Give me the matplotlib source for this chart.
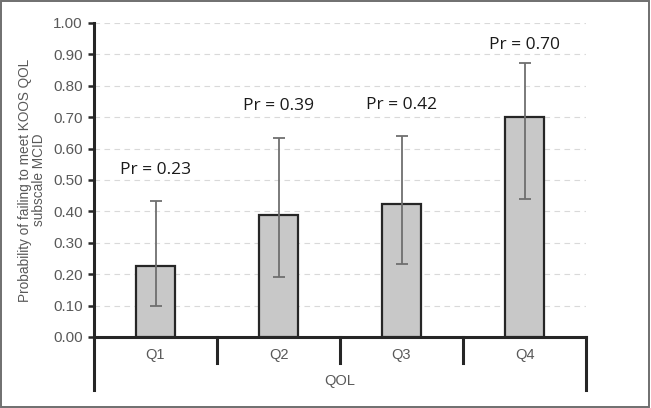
import matplotlib
matplotlib.use("Agg")
from matplotlib import pyplot as plt
from matplotlib.patches import Rectangle

categories = ['Q1', 'Q2', 'Q3', 'Q4']
group_label = 'QOL'
probs = [0.226, 0.39, 0.423, 0.70]
ci_low = [0.10, 0.19, 0.232, 0.44]
ci_high = [0.433, 0.635, 0.64, 0.872]
pr_labels = ['Pr = 0.23', 'Pr = 0.39', 'Pr = 0.42', 'Pr = 0.70']

gray_txt = '#595959'

fig = plt.figure(figsize=(6.51, 4.08), dpi=100)
ax = fig.add_axes([94 / 651, 1 - 337 / 408, (586 - 94) / 651, (337 - 23) / 408])

x = range(len(categories))
err = [[p - lo for p, lo in zip(probs, ci_low)], [hi - p for p, hi in zip(probs, ci_high)]]
ax.bar(x, probs, width=0.31, color='#c8c8c8', edgecolor='#262626', linewidth=1.6, zorder=3)
ax.errorbar(x, probs, yerr=err, fmt='none', ecolor='#6f6f6f', elinewidth=1.3,
            capsize=4.5, capthick=1.3, zorder=4)

for i, (hi, lab) in enumerate(zip(ci_high, pr_labels)):
    ax.text(i, min(hi + 0.1, 0.93), lab, ha='center', va='center',
            fontsize=12.5, family='Open Sans', color='#1a1a1a')

ax.set_xlim(-0.5, len(categories) - 0.5)
ax.set_ylim(0, 1.0)
ax.set_yticks([i / 10 for i in range(11)])
ax.set_yticklabels([f'{i / 10:.2f}' for i in range(11)])
ax.yaxis.grid(True, linestyle=(0, (5, 4)), color='#d9d9d9', linewidth=0.8, zorder=0)
ax.tick_params(axis='y', colors='#262626', labelcolor=gray_txt, labelsize=11,
               length=4, width=1.8, direction='out', pad=4)
for t in ax.get_yticklabels():
    t.set_family('Liberation Sans')

ax.set_xticks([])
for s in ['top', 'right']:
    ax.spines[s].set_visible(False)
ax.spines['left'].set_visible(False)
ax.spines['bottom'].set_linewidth(2.2)
ax.spines['bottom'].set_color('#262626')

trans = ax.get_xaxis_transform()
# left axis line continuing below into the category block
ax.plot([-0.5, -0.5], [1.0, -53 / 314], color='#262626', lw=2.2, transform=trans, clip_on=False)
ax.plot([len(categories) - 0.5] * 2, [0, -53 / 314], color='#262626', lw=2.2,
        transform=trans, clip_on=False)
for b in range(1, len(categories)):
    ax.plot([b - 0.5, b - 0.5], [0, -26 / 314], color='#262626', lw=2.2,
            transform=trans, clip_on=False)
for i, c in enumerate(categories):
    ax.text(i, -18 / 314, c, transform=trans, ha='center', va='center',
            fontsize=10.5, color=gray_txt, family='Liberation Sans')
ax.text((len(categories) - 1) / 2, -44 / 314, group_label, transform=trans, ha='center',
        va='center', fontsize=10.5, color=gray_txt, family='Liberation Sans')

ax.set_ylabel('Probability of failing to meet KOOS QOL\nsubscale MCID', fontsize=9.8,
              color=gray_txt, family='Liberation Sans', linespacing=1.0, labelpad=5)

fig.patches.append(Rectangle((0.002, 0.003), 0.995, 0.994, transform=fig.transFigure,
                             fill=False, edgecolor='#6f6f6f', linewidth=1.4))

fig.savefig('out.png', dpi=100)
